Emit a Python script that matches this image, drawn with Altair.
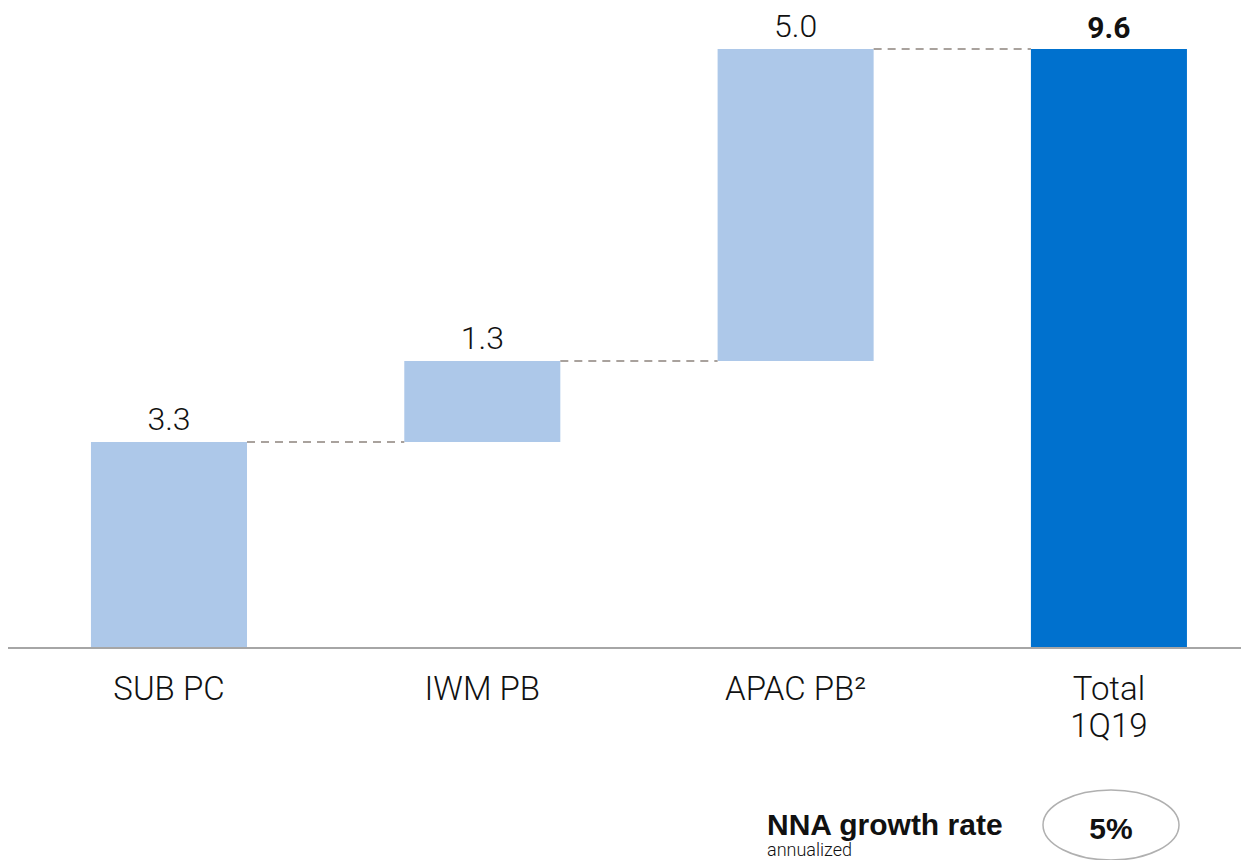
import altair as alt
import pandas as pd

categories = ["SUB PC", "IWM PB", "APAC PB²", "Total\n1Q19"]
deltas = [3.3, 1.3, 5.0]
total = 9.6
labels = ["3.3", "1.3", "5.0", "9.6"]
is_total = [False, False, False, True]

starts, ends = [], []
run = 0.0
for d in deltas:
    starts.append(run)
    run = round(run + d, 1)
    ends.append(run)
starts.append(0.0)
ends.append(total)

df = pd.DataFrame({
    "pos": list(range(len(categories))),
    "cat": categories,
    "start": starts,
    "end": ends,
    "label": labels,
    "total": is_total,
})
conn = pd.DataFrame({"pos": [0, 1, 2], "level": ends[:3]})

HALF = 0.249
FONT = "Roboto"
NOTE_FONT = "Liberation Sans"
TOP = 3
xscale = alt.Scale(domain=[-0.5138, 3.4215], nice=False, zero=False)
yscale = alt.Scale(domain=[0, 10.208], nice=False, zero=False)

base = alt.Chart(df).transform_calculate(
    x1=f"datum.pos - {HALF}", x2=f"datum.pos + {HALF}"
)

bars = base.mark_bar().encode(
    x=alt.X("x1:Q", scale=xscale, axis=None),
    x2="x2:Q",
    y=alt.Y("start:Q", scale=yscale, axis=None),
    y2="end:Q",
    color=alt.condition("datum.total", alt.value("#0071ce"), alt.value("#adc8e9")),
)

vals_light = base.transform_filter("!datum.total").mark_text(
    baseline="alphabetic", dy=-12, fontSize=32, font=FONT, fontWeight=300, color="#111"
).encode(
    x=alt.X("pos:Q", scale=xscale, axis=None),
    y=alt.Y("end:Q", scale=yscale, axis=None),
    text="label:N",
)
vals_bold = base.transform_filter("datum.total").mark_text(
    baseline="alphabetic", dy=-11, fontSize=30, font=FONT, fontWeight="bold", color="#111"
).encode(
    x=alt.X("pos:Q", scale=xscale, axis=None),
    y=alt.Y("end:Q", scale=yscale, axis=None),
    text="label:N",
)

cats = base.mark_text(baseline="alphabetic", fontSize=33, font=FONT, fontWeight=300,
                      lineBreak="\n", lineHeight=37, color="#111").encode(
    x=alt.X("pos:Q", scale=xscale, axis=None),
    y=alt.value(692 - TOP),
    text="cat:N",
)

connectors = alt.Chart(conn).transform_calculate(
    a=f"datum.pos + {HALF}", b=f"datum.pos + 1 - {HALF}"
).mark_rule(color="#a9a29d", strokeWidth=2, strokeDash=[8, 6]).encode(
    x=alt.X("a:Q", scale=xscale, axis=None),
    x2="b:Q",
    y=alt.Y("level:Q", scale=yscale, axis=None),
)

baseline = alt.Chart(df).mark_rule(color="#a6a6a6", strokeWidth=2).encode(
    x=alt.value(-8), x2=alt.value(1241), y=alt.value(640 - TOP)
)

note_df = pd.DataFrame({"t": ["NNA growth rate"], "s": ["annualized"], "r": ["5%"]})
nna = alt.Chart(note_df).mark_text(align="left", baseline="alphabetic", fontSize=30,
                                   fontWeight="bold", font=NOTE_FONT, color="#111").encode(
    x=alt.value(759), y=alt.value(827 - TOP), text="t:N")
ann = alt.Chart(note_df).mark_text(align="left", baseline="alphabetic", fontSize=18,
                                   fontWeight=300, font=FONT, color="#111").encode(
    x=alt.value(759), y=alt.value(848 - TOP), text="s:N")
pct = alt.Chart(note_df).mark_text(align="center", baseline="alphabetic", fontSize=30,
                                   fontWeight="bold", font=NOTE_FONT, color="#111").encode(
    x=alt.value(1103), y=alt.value(831 - TOP), text="r:N")
ellipse = alt.Chart(note_df).mark_point(
    shape="M -1 0 A 1 0.515 0 1 0 1 0 A 1 0.515 0 1 0 -1 0",
    size=18496, filled=False, color="#b0b0b0", strokeWidth=1.5, opacity=1,
).encode(x=alt.value(1103), y=alt.value(817 - TOP))

chart = alt.layer(bars, connectors, vals_light, vals_bold, cats, baseline, nna, ann, pct, ellipse).properties(
    width=1233, height=640 - TOP,
    background="white",
    autosize=alt.AutoSizeParams(type="none"),
    padding={"left": 0, "top": TOP, "right": 0, "bottom": 212},
).configure_view(strokeWidth=0, stroke=None)

chart.save("out.html", embed_options={"renderer": "svg", "actions": False})
